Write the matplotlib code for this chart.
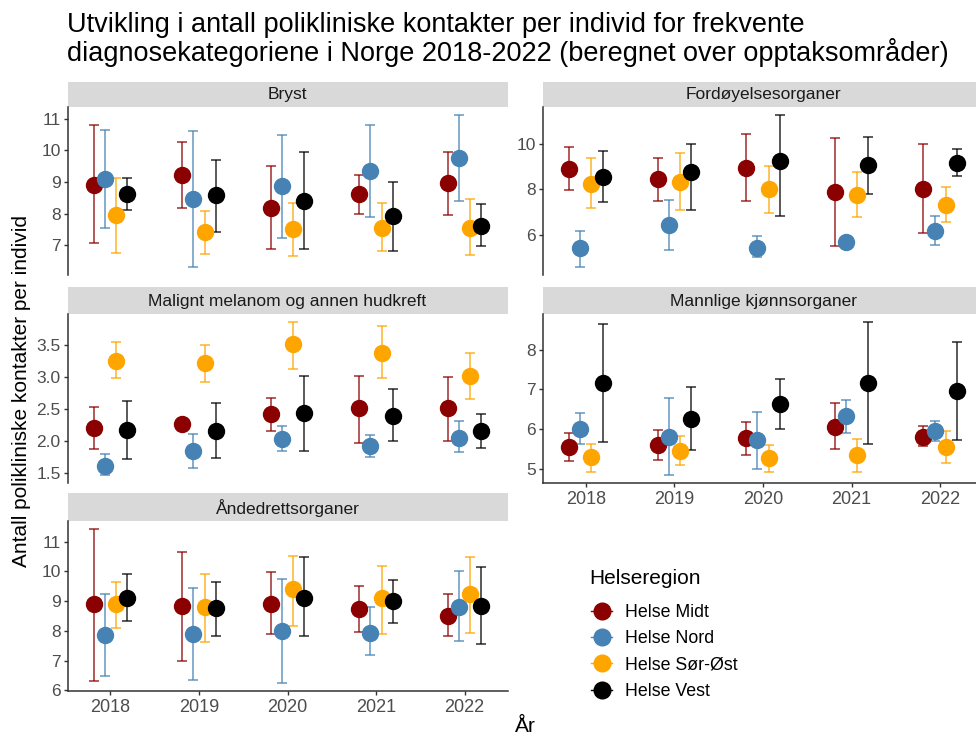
import numpy as np
import matplotlib
matplotlib.use("Agg")
import matplotlib.pyplot as plt
from matplotlib.lines import Line2D
from matplotlib.ticker import MultipleLocator

plt.rcParams["font.family"] = ["Liberation Sans", "DejaVu Sans"]

YEARS = [2018, 2019, 2020, 2021, 2022]
REGIONS = ["Helse Midt", "Helse Nord", "Helse Sør-Øst", "Helse Vest"]
COLORS = ["#8B0000", "#4682B4", "#FFA500", "#000000"]
DODGE = [-0.1875, -0.0625, 0.0625, 0.1875]

# rader = regioner (Midt, Nord, Sør-Øst, Vest), kolonner = år
BRYST_MEAN = [[8.89, 9.21, 8.18, 8.61, 8.97],
              [9.10, 8.47, 8.86, 9.35, 9.75],
              [7.95, 7.43, 7.50, 7.55, 7.55],
              [8.63, 8.58, 8.40, 7.93, 7.62]]
BRYST_LO = [[7.08, 8.18, 6.87, 8.00, 7.97],
            [7.53, 6.30, 7.22, 7.90, 8.39],
            [6.77, 6.72, 6.66, 6.83, 6.69],
            [8.11, 7.43, 6.87, 6.83, 6.97]]
BRYST_HI = [[10.81, 10.26, 9.49, 9.21, 9.96],
            [10.65, 10.62, 10.49, 10.81, 11.13],
            [9.13, 8.09, 8.35, 8.32, 8.47],
            [9.13, 9.71, 9.96, 9.00, 8.29]]

FORD_MEAN = [[8.90, 8.47, 8.93, 7.89, 8.03],
             [5.41, 6.43, 5.44, 5.70, 6.17],
             [8.25, 8.32, 8.00, 7.77, 7.33],
             [8.54, 8.76, 9.24, 9.05, 9.15]]
FORD_LO = [[7.96, 7.48, 7.48, 5.51, 6.10],
           [4.57, 5.34, 5.02, 5.62, 5.55],
           [7.20, 7.08, 6.94, 6.79, 6.55],
           [7.42, 7.08, 6.84, 7.81, 8.57]]
FORD_HI = [[9.85, 9.38, 10.43, 10.24, 9.99],
           [6.18, 7.52, 5.96, 5.78, 6.84],
           [9.38, 9.60, 9.02, 8.76, 8.10],
           [9.70, 10.00, 11.28, 10.29, 9.78]]

MELANOM_MEAN = [[2.20, 2.27, 2.42, 2.51, 2.51],
                [1.61, 1.85, 2.04, 1.92, 2.05],
                [3.25, 3.21, 3.51, 3.38, 3.02],
                [2.18, 2.16, 2.44, 2.40, 2.16]]
MELANOM_LO = [[1.88, 2.24, 2.16, 1.97, 2.00],
              [1.47, 1.58, 1.85, 1.75, 1.84],
              [2.99, 2.92, 3.13, 2.99, 2.65],
              [1.72, 1.74, 1.85, 2.00, 1.89]]
MELANOM_HI = [[2.53, 2.30, 2.67, 3.02, 3.00],
              [1.80, 2.11, 2.23, 2.10, 2.32],
              [3.54, 3.50, 3.86, 3.80, 3.38],
              [2.63, 2.60, 3.02, 2.81, 2.43]]

MANN_MEAN = [[5.55, 5.59, 5.76, 6.04, 5.80],
             [6.01, 5.80, 5.72, 6.34, 5.94],
             [5.29, 5.44, 5.26, 5.34, 5.55],
             [7.15, 6.24, 6.62, 7.15, 6.96]]
MANN_LO = [[5.20, 5.21, 5.34, 5.50, 5.57],
           [5.61, 4.83, 5.00, 5.91, 5.70],
           [4.91, 5.09, 4.91, 4.91, 5.14],
           [5.68, 5.46, 6.00, 5.61, 5.72]]
MANN_HI = [[5.90, 5.97, 6.18, 6.65, 6.07],
           [6.41, 6.78, 6.44, 6.72, 6.19],
           [5.63, 5.83, 5.60, 5.74, 5.95],
           [8.66, 7.05, 7.25, 8.71, 8.19]]

ANDE_MEAN = [[8.89, 8.82, 8.91, 8.72, 8.51],
             [7.85, 7.91, 8.00, 7.94, 8.80],
             [8.89, 8.80, 9.39, 9.11, 9.25],
             [9.11, 8.76, 9.11, 9.00, 8.85]]
ANDE_LO = [[6.32, 7.00, 7.89, 7.97, 7.83],
           [6.47, 6.35, 6.24, 7.20, 7.66],
           [8.11, 7.64, 8.17, 7.91, 7.94],
           [8.32, 7.83, 7.83, 8.26, 7.55]]
ANDE_HI = [[11.43, 10.64, 9.97, 9.51, 9.25],
           [9.23, 9.45, 9.74, 8.80, 10.01],
           [9.63, 9.90, 10.52, 10.19, 10.47],
           [9.90, 9.63, 10.47, 9.70, 10.16]]

W, H = 976, 740


def box(x0, y0, x1, y1):
    # piksler fra øvre venstre hjørne -> figurkoordinater
    return [x0 / W, 1 - y1 / H, (x1 - x0) / W, (y1 - y0) / H]


panels = [
    ("Bryst", BRYST_MEAN, BRYST_LO, BRYST_HI, (67.5, 82, 107, 275), 1, False),
    ("Fordøyelsesorganer", FORD_MEAN, FORD_LO, FORD_HI, (543, 82, 107, 275), 2, False),
    ("Malignt melanom og annen hudkreft", MELANOM_MEAN, MELANOM_LO, MELANOM_HI, (67.5, 287, 314, 483), 0.5, False),
    ("Mannlige kjønnsorganer", MANN_MEAN, MANN_LO, MANN_HI, (543, 287, 314, 483), 1, True),
    ("Åndedrettsorganer", ANDE_MEAN, ANDE_LO, ANDE_HI, (67.5, 493, 521, 691), 1, True),
]

fig = plt.figure(figsize=(W / 100, H / 100), dpi=100)
PANEL_W = 440

for title, mean, lo, hi, (x0, ys, yp, yb), step, show_x in panels:
    sax = fig.add_axes(box(x0, ys, x0 + PANEL_W, yp))
    sax.set_facecolor("#D9D9D9")
    for s in sax.spines.values():
        s.set_visible(False)
    sax.set_xticks([])
    sax.set_yticks([])
    sax.text(0.5, 0.48, title, ha="center", va="center", fontsize=12.5,
             color="#1A1A1A", transform=sax.transAxes)

    ax = fig.add_axes(box(x0, yp, x0 + PANEL_W, yb))
    mean = np.array(mean)
    lo = np.array(lo)
    hi = np.array(hi)
    for i, color in enumerate(COLORS):
        x = np.array(YEARS) + DODGE[i]
        ax.errorbar(x, mean[i], yerr=[mean[i] - lo[i], hi[i] - mean[i]], fmt="none",
                    ecolor=color, elinewidth=1.3, capsize=3.5, capthick=1.3, alpha=0.7)
    for i, color in enumerate(COLORS):
        x = np.array(YEARS) + DODGE[i]
        ax.plot(x, mean[i], "o", color=color, ms=11.5, mec=color, linestyle="none")

    ax.margins(y=0.05)
    ax.set_xlim(2017.515, 2022.485)
    ax.set_xticks(YEARS)
    ax.yaxis.set_major_locator(MultipleLocator(step))
    ax.spines["top"].set_visible(False)
    ax.spines["right"].set_visible(False)
    ax.spines["left"].set_color("#333333")
    ax.spines["left"].set_linewidth(1.1)
    ax.tick_params(axis="y", colors="#333333", labelcolor="#4D4D4D", labelsize=12.5,
                   length=3, width=1, pad=2)
    if show_x:
        ax.spines["bottom"].set_color("#333333")
        ax.spines["bottom"].set_linewidth(1.1)
        ax.tick_params(axis="x", colors="#333333", labelcolor="#4D4D4D", labelsize=13,
                       length=3, width=1, pad=3)
    else:
        ax.spines["bottom"].set_visible(False)
        ax.tick_params(axis="x", bottom=False, labelbottom=False)

fig.text(67 / W, 1 - 12 / H,
         "Utvikling i antall polikliniske kontakter per individ for frekvente\n"
         "diagnosekategoriene i Norge 2018-2022 (beregnet over opptaksområder)",
         ha="left", va="top", fontsize=19.5, color="#000000", linespacing=1.0)
fig.text(22 / W, 1 - 391 / H, "Antall polikliniske kontakter per individ",
         rotation=90, ha="center", va="center", fontsize=15)
fig.text(525 / W, 1 - 727 / H, "År", ha="center", va="center", fontsize=15)

# legende: tittel som egen tekst for å få riktig avstand
fig.text(589 / W, 1 - 578 / H, "Helseregion", ha="left", va="center", fontsize=15)
handles = [Line2D([], [], color=c, marker="o", ms=12, lw=1) for c in COLORS]
fig.legend(handles, REGIONS, loc="upper left", bbox_to_anchor=(591 / W, 1 - 604 / H),
           frameon=False, fontsize=12.8, handlelength=1.2, handletextpad=0.7,
           labelspacing=0.52, borderpad=0, borderaxespad=0)

fig.savefig("out.png", dpi=100)
